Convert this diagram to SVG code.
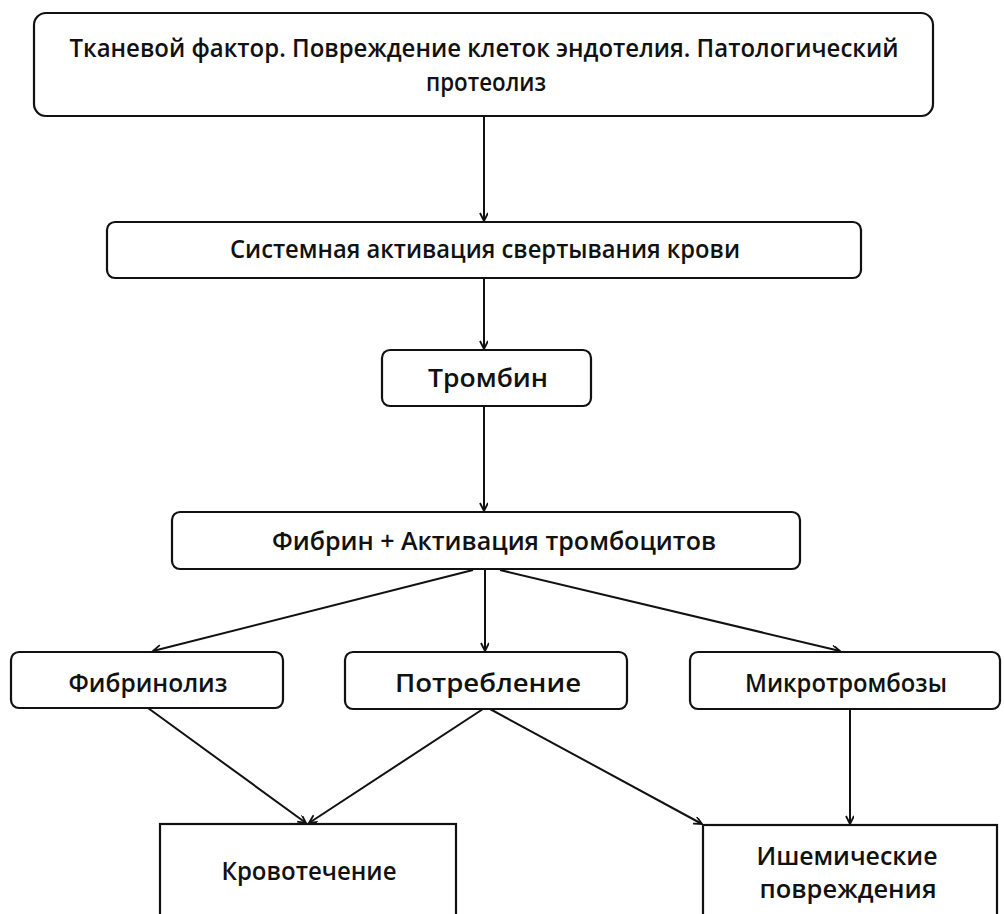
<svg xmlns="http://www.w3.org/2000/svg" width="1004" height="914" viewBox="0 0 1004 914">
<defs>
<style>
.box{fill:#fff;stroke:#111;stroke-width:2.2}
.lbl{font-family:"Open Sans","Noto Sans","DejaVu Sans",sans-serif;font-size:26px;font-weight:600;fill:#111;text-anchor:middle}
.edge{stroke:#111;stroke-width:2;fill:none;marker-end:url(#arr)}
</style>
<marker id="arr" markerUnits="userSpaceOnUse" markerWidth="12" markerHeight="10" refX="9" refY="4" orient="auto" viewBox="0 0 12 10">
<path d="M1,0 L9,4 L1,8" fill="none" stroke="#111" stroke-width="1.8"/>
</marker>
</defs>
<rect width="1004" height="914" fill="#fff"/>
<g id="connectors">
<line class="edge" x1="484" y1="116" x2="484" y2="221"/>
<line class="edge" x1="484" y1="278" x2="484" y2="349"/>
<line class="edge" x1="484" y1="406" x2="484" y2="511"/>
<line class="edge" x1="473" y1="570" x2="153" y2="651"/>
<line class="edge" x1="485" y1="569" x2="485" y2="651"/>
<line class="edge" x1="500" y1="570" x2="840" y2="651"/>
<line class="edge" x1="148" y1="708" x2="306" y2="823"/>
<line class="edge" x1="483" y1="709" x2="309" y2="823"/>
<line class="edge" x1="490" y1="709" x2="702" y2="824"/>
<line class="edge" x1="850" y1="709" x2="850" y2="824"/>
</g>
<g id="n1"><rect class="box" x="34" y="13" width="899" height="103" rx="12"/>
<text class="lbl" x="484" y="57" textLength="829" lengthAdjust="spacingAndGlyphs">Тканевой фактор. Повреждение клеток эндотелия. Патологический</text>
<text class="lbl" x="486" y="91" textLength="120" lengthAdjust="spacingAndGlyphs">протеолиз</text></g>
<g id="n2"><rect class="box" x="107" y="222" width="754" height="56" rx="8"/>
<text class="lbl" x="485" y="258" textLength="510" lengthAdjust="spacingAndGlyphs">Системная активация свертывания крови</text></g>
<g id="n3"><rect class="box" x="382" y="350" width="209" height="56" rx="8"/>
<text class="lbl" x="488" y="387" textLength="120" lengthAdjust="spacingAndGlyphs">Тромбин</text></g>
<g id="n4"><rect class="box" x="172" y="512" width="628" height="57" rx="8"/>
<text class="lbl" x="494" y="550" textLength="444" lengthAdjust="spacingAndGlyphs">Фибрин + Активация тромбоцитов</text></g>
<g id="n5"><rect class="box" x="11" y="652" width="272" height="56" rx="8"/>
<text class="lbl" x="148" y="692" textLength="159" lengthAdjust="spacingAndGlyphs">Фибринолиз</text></g>
<g id="n6"><rect class="box" x="345" y="652" width="282" height="57" rx="8"/>
<text class="lbl" x="488" y="692" textLength="186" lengthAdjust="spacingAndGlyphs">Потребление</text></g>
<g id="n7"><rect class="box" x="690" y="652" width="310" height="57" rx="8"/>
<text class="lbl" x="846" y="692" textLength="202" lengthAdjust="spacingAndGlyphs">Микротромбозы</text></g>
<g id="n8"><rect class="box" x="160" y="824" width="296" height="110"/>
<text class="lbl" x="309" y="880" textLength="175" lengthAdjust="spacingAndGlyphs">Кровотечение</text></g>
<g id="n9"><rect class="box" x="703" y="825" width="294" height="110"/>
<text class="lbl" x="847" y="865" textLength="181" lengthAdjust="spacingAndGlyphs">Ишемические</text>
<text class="lbl" x="848" y="898" textLength="177" lengthAdjust="spacingAndGlyphs">повреждения</text></g>
</svg>
